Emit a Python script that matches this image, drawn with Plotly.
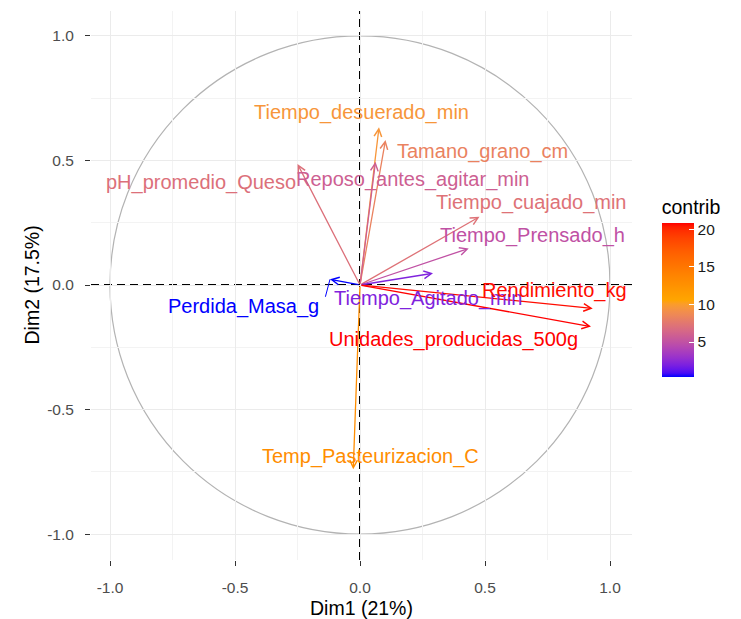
import plotly.graph_objects as go

# ---------------- data ----------------
variables = ["Tiempo_desuerado_min", "Tamano_grano_cm", "Reposo_antes_agitar_min",
             "pH_promedio_Queso", "Tiempo_cuajado_min", "Tiempo_Prensado_h",
             "Tiempo_Agitado_min", "Perdida_Masa_g", "Rendimiento_kg",
             "Unidades_producidas_500g", "Temp_Pasteurizacion_C"]
dim1 = [0.076, 0.102, 0.062, -0.250, 0.478, 0.435, 0.292, -0.120, 0.931, 0.924, -0.027]
dim2 = [0.633, 0.582, 0.495, 0.486, 0.274, 0.147, 0.047, 0.023, -0.094, -0.167, -0.740]
contrib = [9.60, 8.24, 5.87, 7.05, 7.17, 4.98, 2.07, 0.35, 20.68, 20.82, 12.95]
tick_vals = [-1.0, -0.5, 0.0, 0.5, 1.0]
tick_text = ["-1.0", "-0.5", "0.0", "0.5", "1.0"]
cbar_ticks = [5, 10, 15, 20]
x_title = "Dim1 (21%)"
y_title = "Dim2 (17.5%)"

# ------------- label placement (pixel offsets from arrow tip, ggrepel-like) -------------
label_offsets = {
    "Tiempo_desuerado_min": (-18, 15),
    "Tamano_grano_cm": (97, -11),
    "Reposo_antes_agitar_min": (37, -18),
    "pH_promedio_Queso": (-97, -19),
    "Tiempo_cuajado_min": (51, 14),
    "Tiempo_Prensado_h": (64, 13),
    "Tiempo_Agitado_min": (-5, -25),
    "Perdida_Masa_g": (-87, -27),
    "Rendimiento_kg": (-38, 18),
    "Unidades_producidas_500g": (-138, -13),
    "Temp_Pasteurizacion_C": (17, 13),
}

# ------------- colour gradient (Lab interpolation like ggplot) -------------
def hex2rgb(h):
    h = h.lstrip("#")
    return [int(h[i:i + 2], 16) / 255 for i in (0, 2, 4)]

def rgb2lab(rgb):
    lin = [c / 12.92 if c <= 0.04045 else ((c + 0.055) / 1.055) ** 2.4 for c in rgb]
    R, G, B = lin
    X = (0.4124564 * R + 0.3575761 * G + 0.1804375 * B) / 0.95047
    Y = (0.2126729 * R + 0.7151522 * G + 0.0721750 * B) / 1.0
    Z = (0.0193339 * R + 0.1191920 * G + 0.9503041 * B) / 1.08883
    d = 6 / 29
    f = lambda t: t ** (1 / 3) if t > d ** 3 else t / (3 * d * d) + 4 / 29
    fx, fy, fz = f(X), f(Y), f(Z)
    return [116 * fy - 16, 500 * (fx - fy), 200 * (fy - fz)]

def lab2rgb(lab):
    L, a, b = lab
    fy = (L + 16) / 116
    fx = fy + a / 500
    fz = fy - b / 200
    d = 6 / 29
    finv = lambda t: t ** 3 if t > d else 3 * d * d * (t - 4 / 29)
    X, Y, Z = finv(fx) * 0.95047, finv(fy), finv(fz) * 1.08883
    R = 3.2404542 * X - 1.5371385 * Y - 0.4985314 * Z
    G = -0.9692660 * X + 1.8760108 * Y + 0.0415560 * Z
    B = 0.0556434 * X - 0.2040259 * Y + 1.0572252 * Z
    out = []
    for c in (R, G, B):
        c = 12.92 * c if c <= 0.0031308 else 1.055 * c ** (1 / 2.4) - 0.055
        out.append(min(max(c, 0), 1))
    return "#%02X%02X%02X" % tuple(int(round(c * 255)) for c in out)

grad = [rgb2lab(hex2rgb(c)) for c in ("#0000FF", "#FFA500", "#FF0000")]

def gradient(t):
    t = min(max(t, 0), 1)
    if t <= 0.5:
        a, b, u = grad[0], grad[1], t / 0.5
    else:
        a, b, u = grad[1], grad[2], (t - 0.5) / 0.5
    return lab2rgb([a[i] + (b[i] - a[i]) * u for i in range(3)])

cmin, cmax = min(contrib), max(contrib)
colorscale = [[i / 40, gradient(i / 40)] for i in range(41)]
colors = [gradient((c - cmin) / (cmax - cmin)) for c in contrib]

FONT = "Arial, Liberation Sans, sans-serif"
PH = 549  # panel height in px

fig = go.Figure()

# invisible trace carrying the colour bar
fig.add_trace(go.Scatter(
    x=dim1, y=dim2, mode="markers", hoverinfo="skip", showlegend=False,
    marker=dict(size=2, opacity=0, color=contrib, colorscale=colorscale,
                cmin=cmin, cmax=cmax, showscale=True,
                colorbar=dict(
                    title=dict(text="contrib", side="top",
                               font=dict(size=19.5, color="black", family=FONT)),
                    x=1.055, xanchor="left", y=(560 - 286.5) / PH, yanchor="middle",
                    len=181 / PH, lenmode="fraction", thickness=32, thicknessmode="pixels",
                    outlinewidth=0, tickvals=cbar_ticks, ticks="inside",
                    tickcolor="white", ticklen=5, tickwidth=1,
                    tickfont=dict(size=15.5, color="#1A1A1A", family=FONT),
                    xpad=0, ypad=0))))

annotations = []
# arrows
for name, x, y, col in zip(variables, dim1, dim2, colors):
    annotations.append(dict(x=x, y=y, ax=0, ay=0, xref="x", yref="y", axref="x", ayref="y",
                            text="", showarrow=True, arrowhead=5, arrowsize=1.15,
                            arrowwidth=1.3, arrowcolor=col, standoff=0, startstandoff=0))
# repel segment for Perdida_Masa_g
i_p = variables.index("Perdida_Masa_g")
annotations.append(dict(x=dim1[i_p], y=dim2[i_p], xref="x", yref="y", ax=-5, ay=19,
                        text="", showarrow=True, arrowhead=0, arrowwidth=1,
                        arrowcolor=colors[i_p]))
# labels
for name, x, y, col in zip(variables, dim1, dim2, colors):
    dx, dy = label_offsets[name]
    annotations.append(dict(x=x, y=y, xref="x", yref="y", text=name, showarrow=False,
                            xshift=dx, yshift=dy, xanchor="center", yanchor="middle",
                            font=dict(size=20, color=col, family=FONT)))
# axis titles
annotations.append(dict(x=0.5, y=0, xref="x domain", yref="y domain", text=x_title,
                        showarrow=False, xanchor="center", yanchor="middle", yshift=-48,
                        font=dict(size=19.5, color="black", family=FONT)))
annotations.append(dict(x=0, y=0.5, xref="x domain", yref="y domain", text=y_title,
                        showarrow=False, xanchor="center", yanchor="middle", xshift=-60,
                        textangle=-90, font=dict(size=19.5, color="black", family=FONT)))

xr = [-1.076, 1.088]
yr = [-1.104, 1.100]
shapes = [
    dict(type="circle", xref="x", yref="y", x0=-1, y0=-1, x1=1, y1=1,
         line=dict(color="#B3B3B3", width=1.2), layer="below"),
    dict(type="line", xref="x", yref="y", x0=0, x1=0, y0=yr[0], y1=yr[1],
         line=dict(color="black", width=2, dash="8px,5px"), layer="below"),
    dict(type="line", xref="x", yref="y", x0=xr[0], x1=xr[1], y0=0, y1=0,
         line=dict(color="black", width=2, dash="8px,5px"), layer="below"),
]

axis_common = dict(
    tickvals=tick_vals, ticktext=tick_text, ticks="outside", ticklen=5,
    tickcolor="#333333", tickwidth=1.2, showgrid=True, gridcolor="#EBEBEB", gridwidth=1,
    zeroline=False, showline=False, ticklabelstandoff=8, automargin=False,
    tickfont=dict(size=15.5, color="#4D4D4D", family=FONT),
    minor=dict(tickvals=[-0.75, -0.25, 0.25, 0.75], showgrid=True,
               gridcolor="#F3F3F3", gridwidth=1, ticks=""),
)

fig.update_layout(
    width=741, height=619,
    margin=dict(l=91, r=109, t=11, b=59, autoexpand=False),
    paper_bgcolor="white", plot_bgcolor="white",
    xaxis=dict(range=xr, **axis_common),
    yaxis=dict(range=yr, **axis_common),
    annotations=annotations, shapes=shapes,
    hovermode=False, showlegend=False,
    font=dict(family=FONT),
)

fig.write_html("out.html")
